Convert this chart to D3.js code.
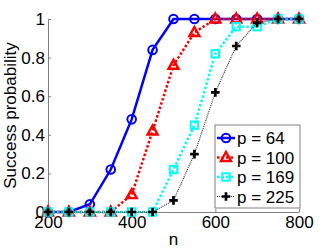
<!DOCTYPE html>
<html>
<head>
<meta charset="utf-8">
<script src="https://cdn.jsdelivr.net/npm/d3@7"></script>
<style>
body { margin: 0; background: #fff; }
text { font-family: "Liberation Sans", Arial, sans-serif; fill: #000; }
.axis path, .axis line { stroke: #808080; }
</style>
</head>
<body>
<div id="chart"></div>
<script>
// data
var nValues = [200, 250, 300, 350, 400, 450, 500, 550, 600, 650, 700, 750, 800];
var p64  = [0, 0, 0.04, 0.22, 0.48, 0.84, 1, 1, 1, 1, 1, 1, 1];
var p100 = [0, 0, 0, 0, 0.09, 0.42, 0.76, 0.93, 1, 1, 1, 1, 1];
var p169 = [0, 0, 0, 0, 0, 0, 0.22, 0.45, 0.82, 0.96, 0.96, 1, 1];
var p225 = [0, 0, 0, 0, 0, 0, 0.06, 0.30, 0.62, 0.86, 0.98, 1, 1];
var seriesNames = ["p = 64", "p = 100", "p = 169", "p = 225"];
var xTicks = [200, 400, 600, 800];
var yTicks = [0, 0.2, 0.4, 0.6, 0.8, 1];

var width = 332, height = 249;
var margin = {top: 19, right: 33, bottom: 37, left: 48};

var svg = d3.select("#chart")
  .append("svg")
  .attr("width", width)
  .attr("height", height);

var x = d3.scaleLinear().domain([200, 800]).range([margin.left, width - margin.right]);
var y = d3.scaleLinear().domain([0, 1]).range([height - margin.bottom, margin.top]);

// styles per series
var styles = [
  {color: "#0000ff", width: 2.5, dash: null, marker: "circle"},
  {color: "#ff0000", width: 2.5, dash: "2.5,2", marker: "triangle"},
  {color: "#00ffff", width: 2.5, dash: "2.5,2", marker: "square"},
  {color: "#333333", width: 1.2, dash: "1,1", marker: "plus"}
];

var series = [p64, p100, p169, p225].map(function(vals, i) {
  return {name: seriesNames[i], style: styles[i],
    points: vals.map(function(v, j) { return {n: nValues[j], v: v}; })};
});

// axes
svg.append("g")
  .attr("class", "axis")
  .attr("transform", "translate(" + margin.left + ",0)")
  .call(d3.axisLeft(y).tickValues(yTicks).tickFormat(d3.format("")).tickSize(-3).tickSizeOuter(0).tickPadding(3))
  .call(function(g) { g.selectAll("text").attr("font-size", 17).attr("fill", "#000"); });

svg.append("g")
  .attr("class", "axis")
  .attr("transform", "translate(0," + y(0) + ")")
  .call(d3.axisBottom(x).tickValues(xTicks).tickSize(-3).tickSizeOuter(0).tickPadding(4))
  .call(function(g) { g.selectAll("text").attr("font-size", 17).attr("fill", "#000"); });

svg.append("text")
  .attr("transform", "translate(16," + ((y(0) + y(1)) / 2) + ") rotate(-90)")
  .attr("text-anchor", "middle")
  .attr("font-size", 17)
  .text("Success probability");

svg.append("text")
  .attr("x", (x(200) + x(800)) / 2)
  .attr("y", 245)
  .attr("text-anchor", "middle")
  .attr("font-size", 17)
  .text("n");

function drawMarker(sel, type, color) {
  if (type === "circle") {
    sel.append("circle").attr("r", 4.3)
      .attr("fill", "none").attr("stroke", color).attr("stroke-width", 2);
  } else if (type === "triangle") {
    sel.append("path").attr("d", "M0,-5.5L5,3.5L-5,3.5Z")
      .attr("fill", "none").attr("stroke", color).attr("stroke-width", 2.4);
  } else if (type === "square") {
    sel.append("rect").attr("x", -3.7).attr("y", -3.7).attr("width", 7.4).attr("height", 7.4)
      .attr("fill", "none").attr("stroke", color).attr("stroke-width", 2);
  } else {
    sel.append("path").attr("d", "M-4.3,0H4.3M0,-4.3V4.3")
      .attr("fill", "none").attr("stroke", "#000").attr("stroke-width", 2.7);
  }
}

var line = d3.line()
  .x(function(d) { return x(d.n); })
  .y(function(d) { return y(d.v); });

series.forEach(function(s) {
  var g = svg.append("g");
  g.append("path")
    .datum(s.points)
    .attr("d", line)
    .attr("fill", "none")
    .attr("stroke", s.style.color)
    .attr("stroke-width", s.style.width)
    .attr("stroke-dasharray", s.style.dash);
  g.selectAll("g.mk")
    .data(s.points)
    .enter().append("g")
    .attr("class", "mk")
    .attr("transform", function(d) { return "translate(" + x(d.n) + "," + y(d.v) + ")"; })
    .each(function() { drawMarker(d3.select(this), s.style.marker, s.style.color); });
});

// legend
var legend = svg.append("g").attr("transform", "translate(215,125)");
legend.append("rect")
  .attr("width", 85).attr("height", 83)
  .attr("fill", "#fff").attr("stroke", "#808080").attr("stroke-width", 1);

var items = legend.selectAll("g.item")
  .data(series)
  .enter().append("g")
  .attr("class", "item")
  .attr("transform", function(d, i) { return "translate(0," + (13 + i * 19.5) + ")"; });

items.append("line")
  .attr("x1", 2).attr("x2", 20)
  .attr("stroke", function(d) { return d.style.color; })
  .attr("stroke-width", function(d) { return d.style.width; })
  .attr("stroke-dasharray", function(d) { return d.style.dash; });

items.append("g")
  .attr("transform", "translate(11,0)")
  .each(function(d) { drawMarker(d3.select(this), d.style.marker, d.style.color); });

items.append("text")
  .attr("x", 22)
  .attr("y", 6)
  .attr("font-size", 17)
  .text(function(d) { return d.name; });
</script>
</body>
</html>
